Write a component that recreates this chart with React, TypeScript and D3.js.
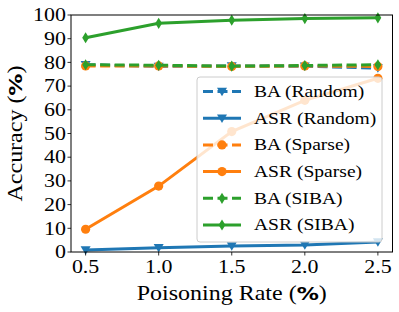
import React from "react";
import * as d3 from "d3";

const rates = [0.5, 1.0, 1.5, 2.0, 2.5];
const baRandom = [79.0, 78.3, 78.5, 78.4, 77.6];
const asrRandom = [0.8, 1.8, 2.5, 3.0, 4.2];
const baSparse = [78.5, 78.5, 78.3, 78.5, 78.3];
const asrSparse = [9.6, 27.8, 50.8, 64.0, 73.3];
const baSIBA = [79.0, 78.8, 78.4, 78.7, 79.0];
const asrSIBA = [90.4, 96.5, 97.8, 98.5, 98.8];
const xTicks = [0.5, 1.0, 1.5, 2.0, 2.5];
const yTicks = [0, 10, 20, 30, 40, 50, 60, 70, 80, 90, 100];

const BLUE = "#1f77b4";
const ORANGE = "#ff7f0e";
const GREEN = "#2ca02c";

type Series = { name: string; values: number[]; color: string; dashed: boolean; marker: string };

const series: Series[] = [
  { name: "BA (Random)", values: baRandom, color: BLUE, dashed: true, marker: "v" },
  { name: "ASR (Random)", values: asrRandom, color: BLUE, dashed: false, marker: "v" },
  { name: "BA (Sparse)", values: baSparse, color: ORANGE, dashed: true, marker: "o" },
  { name: "ASR (Sparse)", values: asrSparse, color: ORANGE, dashed: false, marker: "o" },
  { name: "BA (SIBA)", values: baSIBA, color: GREEN, dashed: true, marker: "d" },
  { name: "ASR (SIBA)", values: asrSIBA, color: GREEN, dashed: false, marker: "d" },
];

const W = 399, H = 312;
const left = 71, right = 392.5, top = 15, bottom = 252;
const FONT = "'Liberation Serif', 'Times New Roman', serif";
const SX = 1.2;

function SText({ x, y, rot = 0, size, anchor = "start", dy, children }: any) {
  return (
    <text
      transform={`translate(${x},${y}) rotate(${rot}) scale(${SX},1)`}
      fontSize={size}
      textAnchor={anchor}
      dy={dy}
      fill="#000"
      fontFamily={FONT}
    >
      {children}
    </text>
  );
}

function Marker({ kind, x, y, color }: { kind: string; x: number; y: number; color: string }) {
  if (kind === "o") return <circle cx={x} cy={y} r={4.6} fill={color} />;
  if (kind === "v") {
    const s = 5;
    return <path d={`M${x - s},${y - s * 0.75} L${x + s},${y - s * 0.75} L${x},${y + s * 0.95} Z`} fill={color} />;
  }
  const w = 3.4, h = 5.6;
  return <path d={`M${x},${y - h} L${x + w},${y} L${x},${y + h} L${x - w},${y} Z`} fill={color} />;
}

export default function App() {
  const x = d3.scaleLinear().domain([0.4, 2.6]).range([left, right]);
  const y = d3.scaleLinear().domain([0, 100]).range([bottom, top]);
  const line = d3.line<number>().x((_, i) => x(rates[i])).y((v) => y(v));

  const legX = 197, legY = 77, legW = 185, legH = 165;
  const rowY = (i: number) => 91.5 + i * 26.7;
  const pct = <tspan fontFamily="'DejaVu Sans', sans-serif" fontWeight="bold" fontSize="0.92em">%</tspan>;

  return (
    <svg width={W} height={H} style={{ position: "absolute", left: 0, top: 0, background: "#fff" }}>
      {series.map((s) => (
        <g key={s.name}>
          <path
            d={line(s.values) || ""}
            fill="none"
            stroke={s.color}
            strokeWidth={3}
            strokeDasharray={s.dashed ? "10,4.5" : undefined}
          />
          {s.values.map((v, i) => (
            <Marker key={i} kind={s.marker} x={x(rates[i])} y={y(v)} color={s.color} />
          ))}
        </g>
      ))}
      <rect x={left} y={top} width={right - left} height={bottom - top} fill="none" stroke="#000" strokeWidth={1} />
      {yTicks.map((t) => (
        <g key={t}>
          <line x1={left - 3.5} x2={left} y1={y(t)} y2={y(t)} stroke="#000" strokeWidth={0.8} />
          <SText x={left - 5} y={y(t)} dy="0.34em" anchor="end" size={18.3}>
            {t}
          </SText>
        </g>
      ))}
      {xTicks.map((t) => (
        <g key={t}>
          <line x1={x(t)} x2={x(t)} y1={bottom} y2={bottom + 3.5} stroke="#000" strokeWidth={0.8} />
          <SText x={x(t)} y={bottom + 21} anchor="middle" size={18.3}>
            {t.toFixed(1)}
          </SText>
        </g>
      ))}
      <SText x={(left + right) / 2} y={300} anchor="middle" size={20}>
        Poisoning Rate ({pct})
      </SText>
      <SText x={22} y={(top + bottom) / 2} rot={-90} anchor="middle" size={20}>
        Accuracy ({pct})
      </SText>
      <rect x={legX} y={legY} width={legW} height={legH} rx={3} fill="#fff" fillOpacity={0.8} stroke="#cccccc" strokeWidth={1} />
      {series.map((s, i) => (
        <g key={s.name}>
          <line
            x1={203}
            x2={241}
            y1={rowY(i)}
            y2={rowY(i)}
            stroke={s.color}
            strokeWidth={3}
            strokeDasharray={s.dashed ? "10,4.5" : undefined}
          />
          <Marker kind={s.marker} x={222} y={rowY(i)} color={s.color} />
          <SText x={254} y={rowY(i)} dy="0.33em" size={16.3}>
            {s.name}
          </SText>
        </g>
      ))}
    </svg>
  );
}
